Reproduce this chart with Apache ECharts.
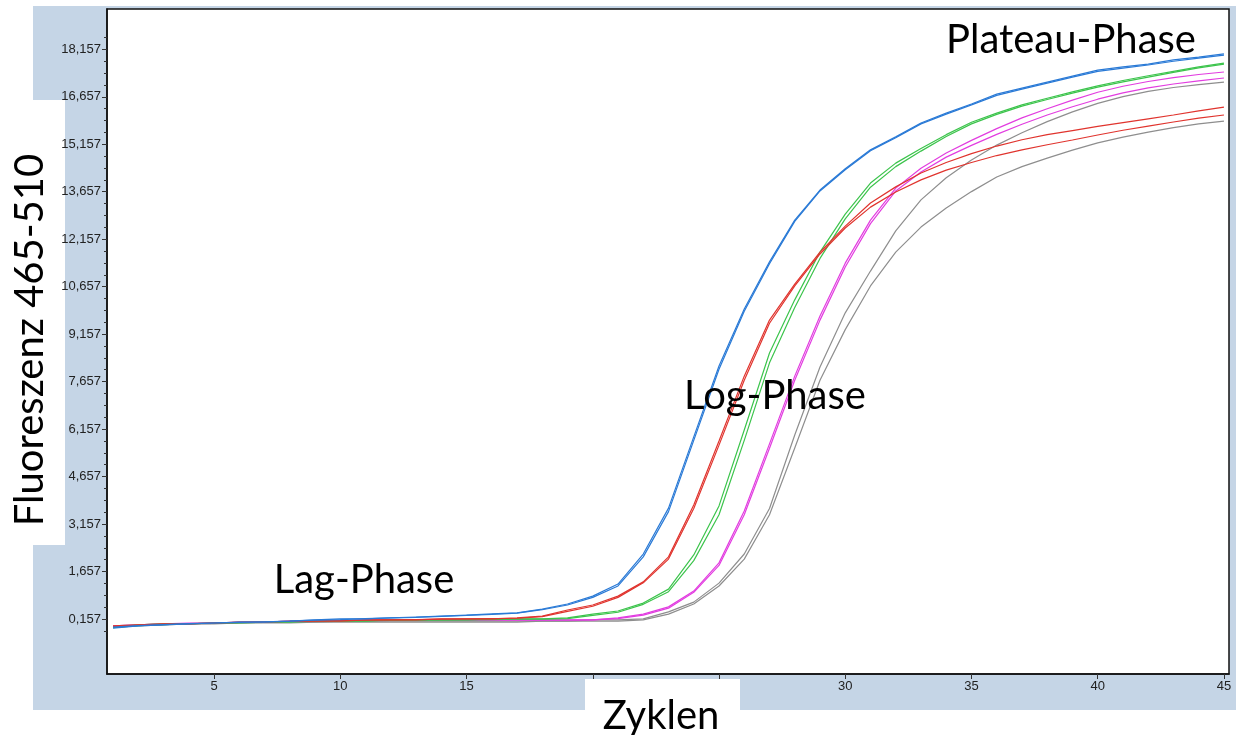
<!DOCTYPE html>
<html>
<head>
<meta charset="utf-8">
<script src="https://cdn.jsdelivr.net/npm/echarts@6/dist/echarts.min.js"></script>
<style>
html,body{margin:0;padding:0;background:#fff;}
#chart{width:1236px;height:735px;}
</style>
</head>
<body>
<div id="chart"></div>
<script>
// ---- data ----
const cycles = [1,2,3,4,5,6,7,8,9,10,11,12,13,14,15,16,17,18,19,20,21,22,23,24,25,26,27,28,29,30,31,32,33,34,35,36,37,38,39,40,41,42,43,44,45];

const blue1 = [-0.13,-0.06,-0.03,0.00,0.03,0.06,0.06,0.09,0.13,0.16, 0.16,0.19,0.22,0.25,0.28,0.32,0.35,0.47,0.63,0.88, 1.26,2.21,3.66,5.91,8.15,9.95,11.44,12.76,13.71,14.38, 14.98,15.39,15.83,16.14,16.43,16.74,16.93,17.12,17.31,17.50, 17.60,17.69,17.82,17.91,18.01];
const blue2 = [-0.10,-0.05,-0.02,0.01,0.03,0.05,0.07,0.09,0.12,0.14, 0.17,0.19,0.21,0.24,0.27,0.30,0.34,0.45,0.60,0.84, 1.20,2.12,3.55,5.80,8.05,9.88,11.38,12.72,13.68,14.35, 14.95,15.36,15.80,16.11,16.40,16.70,16.90,17.09,17.28,17.46, 17.56,17.66,17.78,17.88,17.97];
const red1 = [-0.06,-0.03,0.00,0.00,0.03,0.06,0.06,0.09,0.09,0.09, 0.13,0.13,0.13,0.16,0.16,0.16,0.19,0.25,0.44,0.60, 0.88,1.33,2.12,3.76,5.78,7.83,9.60,10.74,11.75,12.57, 13.30,13.81,14.25,14.58,14.86,15.10,15.30,15.46,15.59,15.72, 15.84,15.96,16.08,16.21,16.33];
const red2 = [-0.08,-0.04,-0.01,0.01,0.03,0.05,0.07,0.08,0.10,0.11, 0.12,0.13,0.14,0.15,0.16,0.17,0.18,0.23,0.40,0.56, 0.84,1.30,2.05,3.65,5.65,7.70,9.50,10.68,11.69,12.51, 13.17,13.65,14.03,14.34,14.58,14.80,14.98,15.14,15.29,15.45, 15.60,15.73,15.86,15.98,16.08];
const green1 = [-0.10,-0.03,0.00,0.00,0.03,0.03,0.06,0.06,0.09,0.09, 0.09,0.13,0.13,0.13,0.13,0.16,0.16,0.16,0.19,0.31, 0.41,0.66,1.10,2.18,3.73,6.13,8.56,10.24,11.75,12.95, 13.93,14.56,15.02,15.46,15.85,16.14,16.40,16.61,16.81,17.00, 17.17,17.32,17.46,17.60,17.72];
const green2 = [-0.12,-0.05,-0.02,0.01,0.02,0.04,0.05,0.07,0.08,0.10, 0.10,0.11,0.12,0.12,0.13,0.14,0.15,0.15,0.17,0.27, 0.37,0.62,1.02,2.00,3.45,5.80,8.25,10.00,11.55,12.80, 13.80,14.45,14.94,15.40,15.80,16.10,16.36,16.57,16.77,16.96, 17.13,17.28,17.43,17.57,17.69];
const magenta1 = [-0.06,-0.03,0.00,0.03,0.03,0.06,0.06,0.09,0.09,0.09, 0.13,0.13,0.13,0.13,0.13,0.13,0.13,0.13,0.13,0.13, 0.19,0.31,0.54,1.04,1.93,3.57,5.69,7.83,9.73,11.40, 12.76,13.77,14.40,14.88,15.28,15.65,15.99,16.28,16.55,16.80, 16.99,17.14,17.26,17.36,17.44];
const magenta2 = [-0.08,-0.04,-0.01,0.01,0.02,0.04,0.06,0.07,0.08,0.09, 0.10,0.11,0.11,0.12,0.12,0.12,0.12,0.12,0.12,0.13, 0.17,0.28,0.50,1.00,1.85,3.45,5.55,7.70,9.60,11.28, 12.65,13.68,14.28,14.75,15.12,15.47,15.79,16.08,16.34,16.58, 16.78,16.94,17.06,17.16,17.25];
const gray1 = [-0.06,-0.03,0.00,0.00,0.03,0.03,0.06,0.06,0.06,0.09, 0.09,0.09,0.09,0.09,0.09,0.09,0.09,0.09,0.09,0.13, 0.13,0.16,0.38,0.69,1.29,2.21,3.65,5.97,8.12,9.83, 11.15,12.42,13.40,14.10,14.66,15.13,15.52,15.87,16.18,16.45, 16.66,16.83,16.95,17.04,17.12];
const gray2 = [-0.10,-0.06,-0.03,0.00,0.00,0.03,0.03,0.03,0.06,0.06, 0.06,0.06,0.06,0.06,0.06,0.06,0.06,0.09,0.09,0.09, 0.09,0.13,0.31,0.63,1.20,2.05,3.45,5.56,7.70,9.30, 10.68,11.75,12.54,13.14,13.66,14.12,14.45,14.72,14.97,15.20, 15.38,15.54,15.68,15.80,15.89];

const xTickLabels = [5,10,15,30,35,40,45];
const xTicks = [5,10,15,20,25,30,35,40,45];
const yTickLabels = [0.157,1.657,3.157,4.657,6.157,7.657,9.157,10.657,12.157,13.657,15.157,16.657,18.157];

const annotations = ['Lag-Phase','Log-Phase','Plateau-Phase'];
const xTitle = 'Zyklen';
const yTitle = 'Fluoreszenz 465-510';

// ---- build ----
const yMinor = [];
for (let i = 0; i < yTickLabels.length - 1; i++) {
  const a = yTickLabels[i], b = yTickLabels[i + 1];
  for (let k = 1; k < 4; k++) yMinor.push(+(a + (b - a) * k / 4).toFixed(4));
}
yMinor.push(-0.218, 18.532);

const seriesDefs = [
  {name:'gray2', data:gray2, color:'#8e8e8e'},
  {name:'gray1', data:gray1, color:'#8e8e8e'},
  {name:'magenta2', data:magenta2, color:'#e23de0'},
  {name:'magenta1', data:magenta1, color:'#e23de0'},
  {name:'green2', data:green2, color:'#3cc44c'},
  {name:'green1', data:green1, color:'#3cc44c'},
  {name:'red2', data:red2, color:'#e0342e'},
  {name:'red1', data:red1, color:'#e0342e'},
  {name:'blue2', data:blue2, color:'#2a7ad6'},
  {name:'blue1', data:blue1, color:'#2a7ad6'}
];

const chart = echarts.init(document.getElementById('chart'), null, {renderer:'canvas'});
const axisFont = {fontFamily:'Liberation Sans', fontSize:13, color:'#222'};
const bigFont = '40px Lato';

chart.setOption({
  animation:false,
  backgroundColor:'#fff',
  grid:{left:107, right:7, top:9, bottom:61, show:true, backgroundColor:'#fff', borderColor:'#111', borderWidth:1.5, outerBoundsMode:'none'},
  xAxis:{
    type:'value', min:0.76, max:45.2,
    axisLine:{show:true, onZero:false, lineStyle:{color:'#111', width:1.5}},
    axisTick:{show:true, length:5, inside:false, customValues:xTicks, lineStyle:{color:'#333'}},
    axisLabel:Object.assign({margin:6, customValues:xTickLabels}, axisFont),
    splitLine:{show:false}
  },
  yAxis:[{
    type:'value', min:-1.581, max:19.43,
    axisLine:{show:true, onZero:false, lineStyle:{color:'#111', width:1.5}},
    axisTick:{show:true, length:5, customValues:yTickLabels, lineStyle:{color:'#333'}},
    axisLabel:Object.assign({margin:6, customValues:yTickLabels, formatter:v => v.toFixed(3).replace('.', ',')}, axisFont),
    splitLine:{show:false}
  },{
    type:'value', min:-1.581, max:19.43, position:'left',
    axisLine:{show:false, onZero:false},
    axisTick:{show:true, length:3, customValues:yMinor, lineStyle:{color:'#333'}},
    axisLabel:{show:false},
    splitLine:{show:false}
  }],
  series: seriesDefs.map(s => ({
    name:s.name, type:'line', yAxisIndex:0, showSymbol:false, symbol:'none',
    lineStyle:{color:s.color, width:1.2}, itemStyle:{color:s.color},
    data: cycles.map((c, i) => [c, s.data[i]])
  })),
  graphic:[
    {type:'rect', silent:true, z:-10, shape:{x:33, y:6, width:1203, height:704}, style:{fill:'#c5d5e6'}},
    {type:'rect', silent:true, z:-9, shape:{x:0, y:100, width:65, height:445}, style:{fill:'#ffffff'}},
    {type:'rect', silent:true, z:-9, shape:{x:585, y:679, width:155, height:56}, style:{fill:'#ffffff'}},
    {type:'text', z:100, x:364, y:580, style:{text:annotations[0], font:bigFont, fill:'#000', align:'center', verticalAlign:'middle'}},
    {type:'text', z:100, x:775, y:396, style:{text:annotations[1], font:bigFont, fill:'#000', align:'center', verticalAlign:'middle'}},
    {type:'text', z:100, x:1071, y:40, style:{text:annotations[2], font:bigFont, fill:'#000', align:'center', verticalAlign:'middle'}},
    {type:'text', z:100, x:661, y:716, style:{text:xTitle, font:bigFont, fill:'#000', align:'center', verticalAlign:'middle'}},
    {type:'text', z:100, x:30, y:340, rotation:Math.PI/2, style:{text:yTitle, font:bigFont, fill:'#000', align:'center', verticalAlign:'middle'}}
  ]
});
</script>
</body>
</html>
